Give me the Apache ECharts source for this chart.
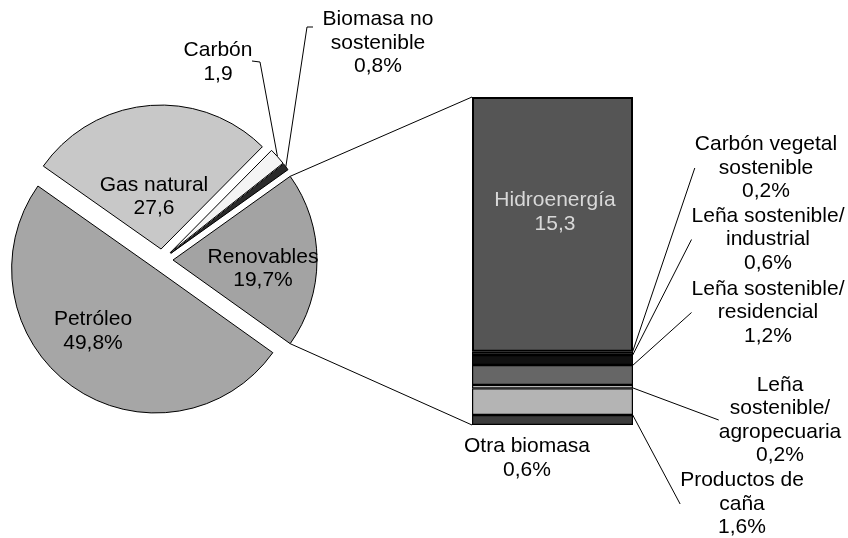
<!DOCTYPE html>
<html><head><meta charset="utf-8">
<script src="https://cdn.jsdelivr.net/npm/echarts@6/dist/echarts.min.js"></script>
<style>html,body{margin:0;padding:0;background:#fff}#c{width:848px;height:538px}</style>
</head><body><div id="c"></div>
<script>
// ---------- DATA ----------
// Main pie, listed clockwise starting with Renovables
const pieNames = ['Renovables', 'Petróleo', 'Gas natural', 'Carbón', 'Biomasa no\nsostenible'];
const pieValues = [19.7, 49.8, 27.6, 1.9, 0.8];
const pieSuffix = ['%', '%', '', '', '%'];

// Breakdown of Renovables (stacked bar), bottom to top
const barNames = ['Otra biomasa', 'Productos de\ncaña', 'Leña\nsostenible/\nagropecuaria',
  'Leña sostenible/\nresidencial', 'Leña sostenible/\nindustrial', 'Carbón vegetal\nsostenible', 'Hidroenergía'];
const barValues = [0.6, 1.6, 0.2, 1.2, 0.6, 0.2, 15.3];
const barSuffix = ['%', '%', '%', '%', '%', '%', ''];
const barCategory = ['Renovables'];

// ---------- STYLE / LAYOUT ----------
const FONT = '"Liberation Sans", Arial, sans-serif';
const FS = 21, LH = 23.5;
const pieColors = ['#a3a3a3', '#a6a6a6', '#c8c8c8', '#f4f4f4', '#2a2a2a'];
const barColors = ['#3c3c3c', '#b4b4b4', '#f2f2f2', '#666666', '#111111', '#333333', '#555555'];
const PIE_C = [162, 260], PIE_R = 144, EXPLODE = 11;
const pieLabelPos = [[263, 268.5], [93, 331], [154, 196.5], [218, 62], [378, 43]];
const pieLeader = [null, null, null, [[260, 62], [252, 61]], [[307, 27], [313, 27]]];
const GRID = {left: 472, top: 97, width: 161, height: 328};
const barLabelPos = [[527, 458], [742, 504], [780, 420], [768, 312.5], [768, 239.5], [766, 168], [555, 212]];
const barLeader = [null, [[652, 490], [657, 490]], [[675, 415], [680, 415]], [[682, 348], [688, 348]],
  [[685, 271], [691, 271]], [[685, 185], [692, 185]], null];

const fmt = (v, s) => v.toFixed(1).replace('.', ',') + s;
const pieTotal = pieValues.reduce((a, b) => a + b, 0);
const barTotal = barValues.reduce((a, b) => a + b, 0);
const startAngle = 180 * pieValues[0] / pieTotal;

const series = [];
let cum = 0;
pieValues.forEach((v, i) => {
  const mid = (startAngle - (cum + v / 2) / pieTotal * 360) * Math.PI / 180;
  cum += v;
  const center = [PIE_C[0] + EXPLODE * Math.cos(mid), PIE_C[1] - EXPLODE * Math.sin(mid)];
  const lead = pieLeader[i];
  series.push({
    type: 'pie', center: center, radius: PIE_R, startAngle: startAngle, clockwise: true,
    avoidLabelOverlap: false, silent: true, animation: false,
    data: pieValues.map((w, j) => ({
      name: pieNames[j], value: w,
      itemStyle: j === i ? {color: pieColors[j], borderColor: '#000', borderWidth: 1}
                          : {color: 'rgba(0,0,0,0)', borderWidth: 0},
      label: {show: j === i},
      labelLine: {show: j === i && !!lead}
    })),
    label: {
      position: lead ? 'outside' : 'inside', color: '#000', fontFamily: FONT, fontSize: FS,
      lineHeight: LH, align: 'center',
      formatter: p => pieNames[p.dataIndex] + '\n' + fmt(p.value, pieSuffix[p.dataIndex])
    },
    labelLine: {lineStyle: {color: '#000', width: 1}, length: 10, length2: 10},
    labelLayout: p => {
      if (p.dataIndex !== i) return {};
      const o = {x: pieLabelPos[i][0], y: pieLabelPos[i][1], align: 'center', verticalAlign: 'middle'};
      if (lead && p.labelLinePoints) {
        o.labelLinePoints = [p.labelLinePoints[0], lead[0], lead[1]];
      }
      return o;
    }
  });
});

barValues.forEach((v, i) => {
  const lead = barLeader[i];
  const isHydro = i === barValues.length - 1;
  series.push({
    type: 'bar', stack: 'ren', name: barNames[i], data: [v], barWidth: '100%',
    xAxisIndex: 0, yAxisIndex: 0, silent: true, animation: false,
    itemStyle: {color: barColors[i], borderColor: '#000', borderWidth: isHydro ? 2 : 1.2},
    label: {
      show: true, position: 'inside', color: isHydro ? '#d8d8d8' : '#000', fontFamily: FONT,
      fontSize: FS, lineHeight: LH, align: 'center',
      formatter: () => barNames[i] + '\n' + fmt(v, barSuffix[i])
    },
    labelLine: {show: !!lead, lineStyle: {color: '#000', width: 1}},
    labelLayout: p => {
      const o = {x: barLabelPos[i][0], y: barLabelPos[i][1], align: 'center', verticalAlign: 'middle'};
      if (lead) {
        const r = p.rect;
        o.labelLinePoints = [[r.x + r.width, r.y + r.height / 2], lead[0], lead[1]];
      }
      return o;
    }
  });
});

const chart = echarts.init(document.getElementById('c'), null, {renderer: 'canvas'});
chart.setOption({
  backgroundColor: '#fff',
  animation: false,
  grid: {left: GRID.left, top: GRID.top, width: GRID.width, height: GRID.height},
  xAxis: {type: 'category', data: barCategory, show: false},
  yAxis: {type: 'value', min: 0, max: barTotal, show: false},
  series: series
});

// connector lines from the Renovables wedge to the bar
const renoCenter = series[0].center;
const a1 = startAngle * Math.PI / 180;
const a2 = (startAngle - pieValues[0] / pieTotal * 360) * Math.PI / 180;
const pTop = [renoCenter[0] + PIE_R * Math.cos(a1), renoCenter[1] - PIE_R * Math.sin(a1)];
const pBot = [renoCenter[0] + PIE_R * Math.cos(a2), renoCenter[1] - PIE_R * Math.sin(a2)];
const barTopPx = chart.convertToPixel({gridIndex: 0}, [0, barTotal]);
const barBotPx = chart.convertToPixel({gridIndex: 0}, [0, 0]);
const barLeft = barTopPx[0] - GRID.width / 2;
chart.setOption({
  graphic: [
    {type: 'line', shape: {x1: pTop[0], y1: pTop[1], x2: barLeft, y2: barTopPx[1]}, style: {stroke: '#000', lineWidth: 1}, silent: true},
    {type: 'line', shape: {x1: pBot[0], y1: pBot[1], x2: barLeft, y2: barBotPx[1]}, style: {stroke: '#000', lineWidth: 1}, silent: true}
  ]
});
</script>
</body></html>
